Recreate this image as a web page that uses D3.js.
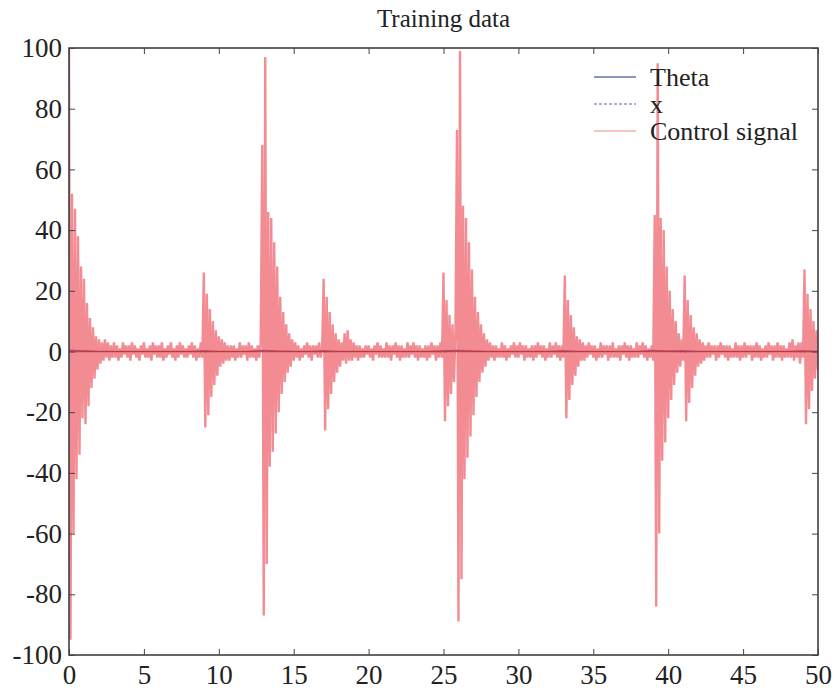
<!DOCTYPE html>
<html><head><meta charset="utf-8">
<script src="https://cdn.jsdelivr.net/npm/d3@7"></script>
<style>body{margin:0;background:#fff}svg{display:block}</style>
</head><body><svg id="c" width="840" height="690"></svg>
<script>
// Sample step (s) of the control signal at 0.1 s resolution
const sampleStep = 0.1;
// Control signal, one row per second (t = k.0 ... k.9), final value at t = 50.0
const controlSignal = [
 100,-95,52,-60,47,-42,38,-34,28,-22,
 24,-24,16,-18,11,-12,8,-9,5,-6,
 4,-4,3,-3,4,-2,3,-3,2,-2,
 3,-2,2,-3,1,-2,3,-1,2,-2,
 2,-3,3,-1,2,-2,1,-3,2,-1,
 3,-2,1,-2,2,-3,3,-1,2,-2,
 2,-2,3,-3,1,-2,2,-1,3,-2,
 1,-3,2,-2,3,-1,2,-2,1,-2,
 2,-1,3,-2,2,-3,1,-2,3,-2,
 26,-25,19,-21,14,-15,10,-11,7,-8,
 5,-5,4,-4,3,-3,2,-3,2,-2,
 2,-3,1,-2,3,-2,2,-1,2,-3,
 3,-2,2,-2,1,-3,2,-2,3,68,
 -87,97,-70,46,-38,44,-33,36,-27,28,
 -20,18,-14,13,-10,9,-7,6,-5,4,
 -3,3,-2,2,-3,1,-2,2,-1,3,
 -2,2,-3,2,-1,2,-2,3,-2,1,
 24,-26,18,-19,13,-14,9,-10,6,-7,
 4,-5,3,-3,6,-4,7,-3,4,-3,
 3,-2,2,-3,2,-2,1,-2,2,-1,
 2,-2,1,-3,2,-1,3,-2,2,-2,
 1,-2,3,-2,2,-3,2,-1,3,-2,
 2,-3,2,-2,1,-2,3,-2,2,-1,
 3,-2,2,-3,2,-2,1,-2,2,-3,
 2,-2,3,-1,2,-3,2,-2,3,-2,
 26,-23,17,-18,12,-14,9,-10,7,73,
 -89,99,-75,48,-42,44,-35,36,-28,27,
 -21,18,-15,13,-10,9,-7,6,-5,4,
 -3,3,-2,2,-3,2,-2,1,-2,3,
 -2,2,-3,1,-2,2,-1,3,-2,2,
 -2,3,-1,2,-3,2,-2,1,-2,2,
 -3,2,-2,3,-1,2,-2,2,-3,1,
 -2,3,-2,2,-1,3,-2,2,-3,2,
 -2,25,-22,17,-16,12,-11,8,-8,5,
 -5,4,-3,3,-3,2,-2,3,-1,2,
 -2,2,-3,1,-2,3,-2,2,-1,2,
 -3,2,-2,3,-2,1,-2,2,-3,2,
 -1,3,-2,2,-3,2,-2,1,-2,3,
 -2,2,-1,3,-2,2,-3,1,-2,2,
 -3,45,-84,95,-60,44,-36,40,-30,28,
 -22,20,-16,14,-11,10,-7,6,-5,4,
 -3,25,-23,17,-17,12,-12,8,-8,6,
 -5,4,-4,3,-3,2,-2,3,-2,2,
 -1,2,-3,2,-2,3,-1,2,-2,2,
 -3,2,-2,1,-2,3,-2,2,-3,2,
 -2,3,-2,2,-1,2,-3,2,-2,3,
 -2,2,-3,1,-2,2,-2,3,-1,2,
 -3,2,-2,3,-2,2,-3,2,-2,1,
 -2,3,-2,4,-3,2,-2,3,-4,3,
 -2,27,-24,19,-19,14,-13,10,-9,7,
 -6
];
// Theta and x: small values near zero, one per second (t = 0 ... 50)
const theta = [0.5,0.2,0,0,0,0,0,0,0,0.2,0,0,0,0.4,0.1,0,0,0.2,0,0,0,0,0,0,0,0.2,0.4,0.1,0,0,0,0,0,0.2,0,0,0,0,0,0.4,0.1,0.2,0,0,0,0,0,0,0,0.2,0];
const xPos  = [0.3,0.1,0,0,0,0,0,0,0,-0.2,0,0,0,0.3,0.1,0,0,-0.2,0,0,0,0,0,0,0,-0.2,0.3,0.1,0,0,0,0,0,-0.2,0,0,0,0,0,0.3,0.1,-0.2,0,0,0,0,0,0,0,-0.2,0];
const xTicks = [0,5,10,15,20,25,30,35,40,45,50];
const yTicks = [-100,-80,-60,-40,-20,0,20,40,60,80,100];
const seriesNames = ["Theta","x","Control signal"];
const chartTitle = "Training data";

const svg = d3.select("#c");
const L = 69, R = 818, T = 48, B = 655;
const xs = d3.scaleLinear().domain([0,50]).range([L,R]);
const ys = d3.scaleLinear().domain([-100,100]).range([B,T]);
const font = "'Liberation Serif','Times New Roman',serif";

const clip = svg.append("defs").append("clipPath").attr("id","pc");
clip.append("rect").attr("x",L).attr("y",T).attr("width",R-L).attr("height",B-T);

const g = svg.append("g").attr("clip-path","url(#pc)");
const line = d3.line().x(d=>xs(d[0])).y(d=>ys(d[1]));
const thetaPts = theta.map((v,i)=>[i,v]);
const xPts = xPos.map((v,i)=>[i,v]);
const ctrlPts = controlSignal.map((v,i)=>[i*sampleStep,v]);

g.append("path").attr("d",line(thetaPts)).attr("fill","none").attr("stroke","#1c2a86").attr("stroke-width",1.2);
g.append("path").attr("d",line(xPts)).attr("fill","none").attr("stroke","#5a6a9a").attr("stroke-width",1).attr("stroke-dasharray","3,2");
g.append("path").attr("d",line(ctrlPts)).attr("fill","none").attr("stroke","#ec5a64").attr("stroke-width",2.4).attr("stroke-opacity",0.7).attr("stroke-linejoin","miter").attr("stroke-miterlimit",1);
// dark centre trace
g.append("line").attr("x1",xs(0)).attr("x2",xs(50)).attr("y1",ys(0)).attr("y2",ys(0)).attr("stroke","#b8323c").attr("stroke-width",1.4).attr("stroke-opacity",0.75);

// frame
svg.append("rect").attr("x",L).attr("y",T).attr("width",R-L).attr("height",B-T).attr("fill","none").attr("stroke","#333").attr("stroke-width",1.5);

// axes with inward ticks
const fmt = d => String(d);
const axB = d3.axisBottom(xs).tickValues(xTicks).tickSize(-6).tickPadding(10).tickFormat(fmt);
const axT = d3.axisTop(xs).tickValues(xTicks).tickSize(-6).tickFormat("");
const axL = d3.axisLeft(ys).tickValues(yTicks).tickSize(-6).tickPadding(7).tickFormat(fmt);
const axR = d3.axisRight(ys).tickValues(yTicks).tickSize(-6).tickFormat("");
function style(sel){ sel.select(".domain").remove(); sel.selectAll(".tick line").attr("stroke","#444");
  sel.selectAll("text").attr("font-family",font).attr("font-size",27).attr("fill","#222"); }
svg.append("g").attr("transform",`translate(0,${B})`).call(axB).call(style);
svg.append("g").attr("transform",`translate(0,${T})`).call(axT).call(style);
svg.append("g").attr("transform",`translate(${L},0)`).call(axL).call(style);
svg.append("g").attr("transform",`translate(${R},0)`).call(axR).call(style);

svg.append("text").attr("x",(L+R)/2).attr("y",27).attr("text-anchor","middle").attr("font-family",font).attr("font-size",25).attr("fill","#222").text(chartTitle);

// legend
const legColors = ["#1c2a86","#5a6a9a","#f08a8a"];
const legDash = [null,"3,2",null];
const legY = [77,104,131];
seriesNames.forEach((n,i)=>{
  svg.append("line").attr("x1",594).attr("x2",636).attr("y1",legY[i]).attr("y2",legY[i]).attr("stroke",legColors[i]).attr("stroke-width",1.2).attr("stroke-dasharray",legDash[i]);
  svg.append("text").attr("x",650).attr("y",legY[i]).attr("dy","0.35em").attr("font-family",font).attr("font-size",26).attr("fill","#222").text(n);
});
</script></body></html>
